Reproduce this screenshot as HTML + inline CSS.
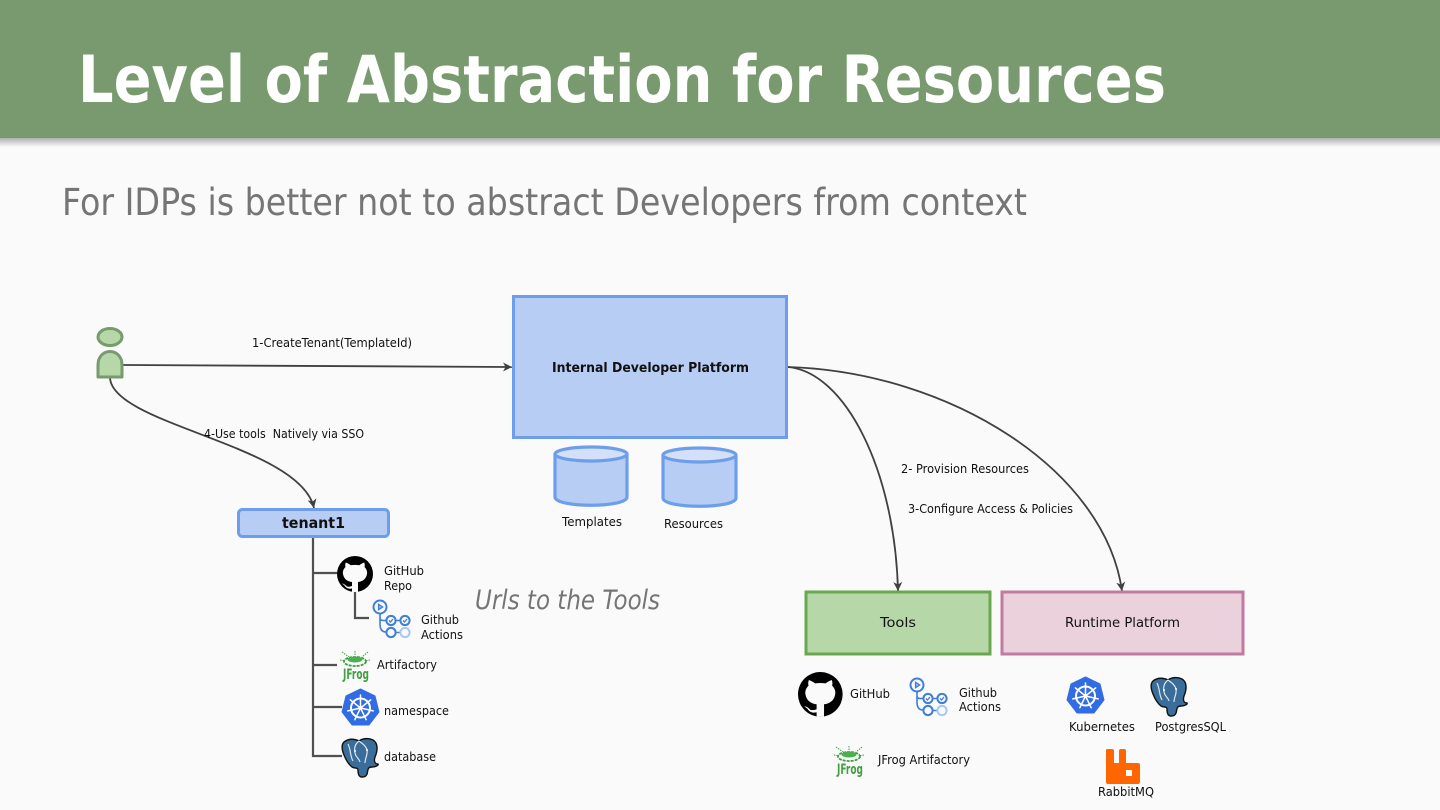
<!DOCTYPE html>
<html><head><meta charset="utf-8"><title>Level of Abstraction for Resources</title>
<style>
html,body{margin:0;padding:0;width:1440px;height:810px;overflow:hidden;background:#fafafa}
svg{display:block}
text{font-family:"DejaVu Sans","Liberation Sans",sans-serif;fill:#111}
.l{font-size:12.2px}
</style></head><body>
<svg width="1440" height="810" viewBox="0 0 1440 810" xmlns="http://www.w3.org/2000/svg">
<defs>
<linearGradient id="sh" x1="0" y1="0" x2="0" y2="1"><stop offset="0" stop-color="#000" stop-opacity=".3"/><stop offset="1" stop-color="#000" stop-opacity="0"/></linearGradient>
<g id="gh">
<circle cx="18" cy="18" r="18" fill="#000"/>
<path d="M8.500 11C8 9.500 8.200 8 8.800 6.500C10.500 7 12 8 13.800 9.200C16.500 8.700 19.500 8.700 22.200 9.200C24 8 25.500 7 27.200 6.500C27.800 8 28 9.500 27.500 11C29.500 13 30.500 15.500 30 18C29.200 23 25.500 25.500 21 26V36H15V32.500C11.500 33.300 9 32 7.500 29.500L5 27.500C7.500 27.800 9 29.500 10 30.500C12 31 13.500 30.500 15 30V26C10.500 25.500 6.800 23 6 18C5.500 15.500 6.500 13 8.500 11Z" fill="#fafafa"/>
</g>
<g id="ga" fill="none" stroke="#3f7fd9" stroke-width="2">
<circle cx="7" cy="7" r="6.500"/><path d="M5.500 4.200L9.800 7L5.500 9.800Z" fill="#8fb6ee" stroke-width="1.200"/>
<path d="M7 13.500V24C7 29 9 32 13 32M7 17C7 21 9 20.500 13 20.500M23 20.500H27M23 32.500H27" stroke-width="1.600"/>
<circle cx="18" cy="20.500" r="4.600"/><circle cx="32" cy="20.500" r="4.600"/><circle cx="18" cy="32.500" r="4.600"/><circle cx="32" cy="32.500" r="4.600" stroke="#a9c8f0"/>
<path d="M16 20.500L17.500 22L20 19M30 20.500L31.500 22L34 19" stroke-width="1.300"/>
</g>
<g id="k8">
<path d="M18.500 0L33 7L37 23L27 36H10L0 23L4 7Z" fill="#326ce5" stroke="#326ce5" stroke-linejoin="round"/>
<g fill="none" stroke="#fff" stroke-linecap="round">
<circle cx="18.500" cy="19" r="9.500" stroke-width="2"/>
<circle cx="18.500" cy="19" r="2" fill="#fff" stroke="none"/>
<g stroke-width="1.500">
<path d="M18.500 19V6"/><path transform="rotate(51.400 18.500 19)" d="M18.500 19V6"/><path transform="rotate(102.900 18.500 19)" d="M18.500 19V6"/><path transform="rotate(154.300 18.500 19)" d="M18.500 19V6"/><path transform="rotate(205.700 18.500 19)" d="M18.500 19V6"/><path transform="rotate(257.100 18.500 19)" d="M18.500 19V6"/><path transform="rotate(308.600 18.500 19)" d="M18.500 19V6"/>
</g>
</g>
</g>
<g id="pg">
<path d="M3 4C8 0 14 1 18 3C22 0 28 0 32 2C37 5 37 12 34 19C33 22 33 26 37 26C38 27 35 29 31 29C28 29 27 30 26.500 34C26 38 24 39 21 39C18 39 17 36 17 32C17 29 14 31 11 29C7 26 5 22 3 17C1 12 0 7 3 4Z" fill="#3a6d9a" stroke="#111" stroke-width="1.400"/>
<path d="M18 3C14 6 13 10 14 15C15 20 18 20 19 24M18 3C22 6 25 8 26 12C27 17 24 20 24 25M7 6C10 12 9 18 12 23" fill="none" stroke="#dbe7f1" stroke-width="1.200"/>
<circle cx="14" cy="13" r="1" fill="#fff"/><circle cx="26" cy="12" r="1" fill="#fff"/>
</g>
<g id="jf" fill="none" stroke="#40a040">
<path d="M2 1L9 6M28 1L22 6M15 0V4M0 9L5 10M30 9L25 10" stroke-width="1" stroke-dasharray="1.500 1"/>
<ellipse cx="15" cy="10.500" rx="11" ry="4.500" stroke-width="1.800" stroke-dasharray="3 1"/>
<ellipse cx="15" cy="8.500" rx="7.500" ry="3" fill="#4caf50" stroke="none"/>
</g>
<marker id="ar" markerWidth="11" markerHeight="12" refX="10" refY="6" orient="auto" markerUnits="userSpaceOnUse"><path d="M1 1.500L10 6L1 10.500L3.500 6Z" fill="#404040"/></marker>
</defs>

<rect width="1440" height="810" fill="#fafafa"/>
<rect y="138" width="1440" height="9" fill="url(#sh)"/>
<rect width="1440" height="138" fill="#789a6e"/>
<text x="78" y="102" font-size="65" font-weight="700" style="fill:#fff" textLength="1088" lengthAdjust="spacingAndGlyphs">Level of Abstraction for Resources</text>
<text x="62" y="215" font-size="37" style="fill:#757575" textLength="965" lengthAdjust="spacingAndGlyphs">For IDPs is better not to abstract Developers from context</text>

<!-- connectors -->
<g fill="none" stroke="#404040" stroke-width="1.800">
<path d="M123 365C250 365 380 367 512 367" marker-end="url(#ar)"/>
<path d="M110 378C113 425 300 445 314 508" marker-end="url(#ar)"/>
<path d="M788 367C845 372 895 470 898 591" marker-end="url(#ar)"/>
<path d="M788 367C950 372 1105 470 1122 591" marker-end="url(#ar)"/>
</g>
<g fill="none" stroke="#505050" stroke-width="2.200">
<path d="M313 537V756H342M313 573H338M313 665H337M313 707H342"/>
<path d="M355 591V618H369"/>
</g>

<!-- person -->
<ellipse cx="110" cy="337" rx="12" ry="8.500" fill="#b6d7a8" stroke="#789a6e" stroke-width="3"/>
<path d="M98 377V365C98 347 122 347 122 365V377Z" fill="#b6d7a8" stroke="#789a6e" stroke-width="3" stroke-linejoin="round"/>

<!-- IDP -->
<rect x="513.500" y="296.500" width="273" height="141" fill="#b7cdf3" stroke="#6d9eeb" stroke-width="3"/>
<text x="552" y="372" font-size="13" font-weight="700" textLength="197" lengthAdjust="spacingAndGlyphs">Internal Developer Platform</text>

<!-- cylinders -->
<g fill="#b7cdf3" stroke="#6d9eeb" stroke-width="3.200">
<path d="M555 454V497C555 508 627 508 627 497V454"/>
<ellipse cx="591" cy="454" rx="36" ry="7" fill="#d3e0f7"/>
<path d="M663 455V498C663 509 736 509 736 498V455"/>
<ellipse cx="699.500" cy="455" rx="36.500" ry="7" fill="#d3e0f7"/>
</g>
<text class="l" x="562" y="526" textLength="60" lengthAdjust="spacingAndGlyphs">Templates</text>
<text class="l" x="664" y="528" textLength="59" lengthAdjust="spacingAndGlyphs">Resources</text>

<!-- tenant -->
<rect x="238.500" y="509.500" width="150" height="27" rx="4" fill="#b7cdf3" stroke="#6d9eeb" stroke-width="3"/>
<text x="282" y="528" font-size="15.500" font-weight="700" textLength="63" lengthAdjust="spacingAndGlyphs">tenant1</text>

<!-- tools/runtime -->
<rect x="806" y="592" width="184" height="62" fill="#b6d7a8" stroke="#6aa84f" stroke-width="3"/>
<text x="880" y="627" font-size="13.500" textLength="36" lengthAdjust="spacingAndGlyphs">Tools</text>
<rect x="1002" y="592" width="241" height="62" fill="#ead1dc" stroke="#c27ba0" stroke-width="3"/>
<text x="1065" y="627" font-size="13.500" textLength="115" lengthAdjust="spacingAndGlyphs">Runtime Platform</text>

<!-- connector labels -->
<text class="l" x="252" y="347" textLength="160" lengthAdjust="spacingAndGlyphs">1-CreateTenant(TemplateId)</text>
<text class="l" x="204" y="438" textLength="160" lengthAdjust="spacingAndGlyphs">4-Use tools&#160; Natively via SSO</text>
<text class="l" x="901" y="473" textLength="128" lengthAdjust="spacingAndGlyphs">2- Provision Resources</text>
<text class="l" x="908" y="513" textLength="165" lengthAdjust="spacingAndGlyphs">3-Configure Access &amp; Policies</text>
<text x="475" y="609" font-size="27" font-style="italic" style="fill:#757575" textLength="185" lengthAdjust="spacingAndGlyphs">Urls to the Tools</text>

<!-- left icons -->
<use href="#gh" x="337" y="556"/>
<text class="l" x="384" y="575" textLength="40" lengthAdjust="spacingAndGlyphs">GitHub</text>
<text class="l" x="384" y="590" textLength="28" lengthAdjust="spacingAndGlyphs">Repo</text>
<use href="#ga" x="373" y="600"/>
<text class="l" x="421" y="624" textLength="38" lengthAdjust="spacingAndGlyphs">Github</text>
<text class="l" x="421" y="639" textLength="42" lengthAdjust="spacingAndGlyphs">Actions</text>
<use href="#jf" x="340" y="651"/>
<text x="343" y="679" font-size="14" font-weight="700" style="fill:#40a040" textLength="26" lengthAdjust="spacingAndGlyphs">JFrog</text>
<text class="l" x="377" y="669" textLength="60" lengthAdjust="spacingAndGlyphs">Artifactory</text>
<use href="#k8" x="342" y="689"/>
<text class="l" x="384" y="715" textLength="65" lengthAdjust="spacingAndGlyphs">namespace</text>
<use href="#pg" x="341" y="738"/>
<text class="l" x="384" y="761" textLength="52" lengthAdjust="spacingAndGlyphs">database</text>

<!-- right icons -->
<g transform="translate(798 672) scale(1.240)"><use href="#gh"/></g>
<text class="l" x="850" y="698" textLength="40" lengthAdjust="spacingAndGlyphs">GitHub</text>
<use href="#ga" x="910" y="678"/>
<text class="l" x="959" y="697" textLength="38" lengthAdjust="spacingAndGlyphs">Github</text>
<text class="l" x="959" y="711" textLength="42" lengthAdjust="spacingAndGlyphs">Actions</text>
<use href="#jf" x="834" y="746"/>
<text x="837" y="774" font-size="14" font-weight="700" style="fill:#40a040" textLength="26" lengthAdjust="spacingAndGlyphs">JFrog</text>
<text class="l" x="878" y="764" textLength="92" lengthAdjust="spacingAndGlyphs">JFrog Artifactory</text>
<use href="#k8" x="1067" y="677"/>
<text class="l" x="1069" y="731" textLength="66" lengthAdjust="spacingAndGlyphs">Kubernetes</text>
<use href="#pg" x="1150" y="677"/>
<text class="l" x="1155" y="731" textLength="71" lengthAdjust="spacingAndGlyphs">PostgresSQL</text>
<path d="M1107 749Q1106 749 1106 751V782Q1106 784 1108 784H1138Q1140 784 1140 782V765Q1140 763 1138 763H1126V751Q1126 749 1124 749H1121Q1119 749 1119 751V763H1114V751Q1114 749 1112 749Z" fill="#ff6600"/>
<rect x="1126" y="770" width="6" height="6" fill="#fafafa"/>
<text class="l" x="1098" y="796" textLength="56" lengthAdjust="spacingAndGlyphs">RabbitMQ</text>
</svg>
</body></html>
